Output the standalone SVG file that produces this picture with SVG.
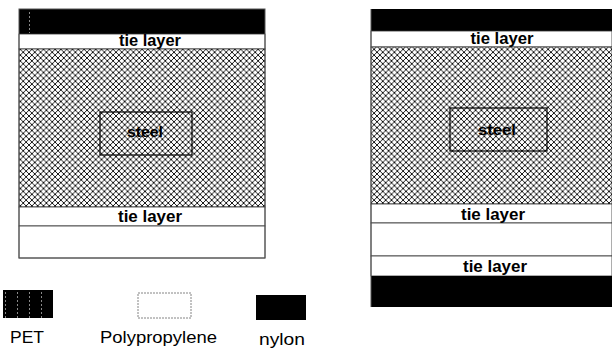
<svg xmlns="http://www.w3.org/2000/svg" width="612" height="349" viewBox="0 0 612 349">
<defs>
<pattern id="hatch" patternUnits="userSpaceOnUse" width="5.8" height="5.8">
<rect width="5.8" height="5.8" fill="#fff"/>
<path d="M0,0L5.8,5.8M0,5.8L5.8,0" stroke="#000" stroke-width="0.9"/>
</pattern>
<pattern id="pet" patternUnits="userSpaceOnUse" width="12" height="4">
<rect width="12" height="4" fill="#000"/>
<rect x="5" y="0" width="1" height="2" fill="#888"/>
</pattern>
</defs>
<style>
.lbl{font-family:"Liberation Sans",Arial,sans-serif;font-size:16px;font-weight:bold;fill:#000;text-anchor:middle}
.st{font-family:"Liberation Sans",Arial,sans-serif;font-size:14px;font-weight:bold;fill:#000;text-anchor:middle}
.leg{font-family:"Liberation Sans",Arial,sans-serif;font-size:16px;fill:#000}
.edge{fill:none;stroke:#555;stroke-width:1}
.wl{fill:#fff;stroke:#333;stroke-width:0.8}
</style>
<g id="left-stack">
<rect x="19" y="9" width="246" height="25" fill="#000"/>
<rect x="20" y="10" width="10" height="23" fill="url(#pet)"/>
<rect class="wl" x="19" y="34" width="246" height="15"/>
<rect x="19" y="49" width="246" height="158" fill="url(#hatch)" stroke="#333" stroke-width="0.8"/>
<rect class="wl" x="19" y="207" width="246" height="19"/>
<rect class="wl" x="19" y="226" width="246" height="32"/>
<rect class="edge" x="19" y="9" width="246" height="249"/>
<text class="lbl" x="150" y="46" textLength="62" lengthAdjust="spacingAndGlyphs">tie layer</text>
<text class="lbl" x="150" y="222" textLength="64" lengthAdjust="spacingAndGlyphs">tie layer</text>
</g>
<g id="left-steel">
<rect x="100" y="112" width="92" height="43" fill="none" stroke="#000" stroke-width="1.2"/>
<text class="st" x="145" y="137" textLength="36" lengthAdjust="spacingAndGlyphs">steel</text>
</g>
<g id="right-stack">
<rect x="371" y="9" width="241" height="22" fill="#000"/>
<rect class="wl" x="371" y="31" width="241" height="16"/>
<rect x="371" y="47" width="241" height="157" fill="url(#hatch)" stroke="#333" stroke-width="0.8"/>
<rect class="wl" x="371" y="204" width="241" height="19"/>
<rect class="wl" x="371" y="223" width="241" height="33"/>
<rect class="wl" x="371" y="256" width="241" height="20"/>
<rect x="371" y="276" width="241" height="31" fill="#000"/>
<line x1="371" y1="9" x2="371" y2="307" stroke="#555"/>
<text class="lbl" x="502" y="44" textLength="63" lengthAdjust="spacingAndGlyphs">tie layer</text>
<text class="lbl" x="493" y="220" textLength="64" lengthAdjust="spacingAndGlyphs">tie layer</text>
<text class="lbl" x="495" y="272" textLength="64" lengthAdjust="spacingAndGlyphs">tie layer</text>
</g>
<g id="right-steel">
<rect x="450" y="108" width="97" height="43" fill="none" stroke="#000" stroke-width="1.2"/>
<text class="st" x="497" y="135" textLength="38" lengthAdjust="spacingAndGlyphs">steel</text>
</g>
<g id="legend-pet">
<rect x="3" y="290" width="50" height="28" fill="url(#pet)"/>
<text class="leg" x="10" y="343" textLength="34" lengthAdjust="spacingAndGlyphs">PET</text>
</g>
<g id="legend-pp">
<rect x="138" y="293" width="53" height="25" fill="#fff" stroke="#666" stroke-width="0.8" stroke-dasharray="2,1"/>
<text class="leg" x="100" y="343" textLength="117" lengthAdjust="spacingAndGlyphs">Polypropylene</text>
</g>
<g id="legend-nylon">
<rect x="256" y="295" width="50" height="25" fill="#000"/>
<text class="leg" x="259" y="345" textLength="46" lengthAdjust="spacingAndGlyphs">nylon</text>
</g>
</svg>
